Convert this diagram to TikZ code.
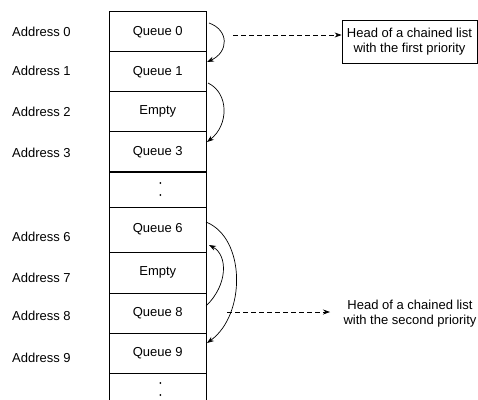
\documentclass[tikz,border=0pt]{standalone}
\usepackage{fontspec}
\setmainfont{Liberation Sans}
\usetikzlibrary{arrows.meta}
\begin{document}
\begin{tikzpicture}[x=1pt,y=-1pt,
  cell/.style={draw,line width=0.8pt,minimum width=97pt,inner sep=0pt,font=\fontsize{13}{15}\selectfont},
  addr/.style={anchor=west,inner sep=0pt,font=\fontsize{13}{15}\selectfont},
  link/.style={line width=0.7pt,-{Stealth[length=7pt,width=5pt]}},
  dlink/.style={line width=0.7pt,dash pattern=on 5pt off 3pt,-{Stealth[length=7pt,width=5pt]}},
  note/.style={align=center,inner sep=0pt,font=\fontsize{13}{15}\selectfont}]
\useasboundingbox (0,0) rectangle (478,399);
% column cells
\node[cell,minimum height=40pt] (c0) at (157.8,31.8) {Queue 0};
\node[cell,minimum height=40pt] (c1) at (157.8,71.8) {Queue 1};
\node[cell,minimum height=40pt] (c2) at (157.8,111.8) {Empty};
\node[cell,minimum height=40pt] (c3) at (157.8,151.8) {Queue 3};
\node[cell,minimum height=35pt] (cd1) at (157.8,189.5) {};
\node[cell,minimum height=45pt] (c6) at (157.8,229.5) {Queue 6};
\node[cell,minimum height=41pt] (c7) at (157.8,272.5) {Empty};
\node[cell,minimum height=40pt] (c8) at (157.8,313) {Queue 8};
\node[cell,minimum height=40pt] (c9) at (157.8,353) {Queue 9};
\node[cell,minimum height=40pt] (cd2) at (157.8,393) {};
% dots
\fill (cd1.center) ++(2.5,-6.5) circle (1pt) ++(0,12) circle (1pt);
\fill (cd2.center) ++(2.5,-10) circle (1pt) ++(0,12) circle (1pt);
% addresses
\node[addr] (a0) at (12,32) {Address 0};
\node[addr] (a1) at (12,71) {Address 1};
\node[addr] (a2) at (12,112) {Address 2};
\node[addr] (a3) at (12,153) {Address 3};
\node[addr] (a6) at (12,237) {Address 6};
\node[addr] (a7) at (12,278) {Address 7};
\node[addr] (a8) at (12,316) {Address 8};
\node[addr] (a9) at (12,358) {Address 9};
% notes
\node[draw,line width=0.8pt,align=center,inner sep=0pt,minimum width=135pt,minimum height=43pt,font=\fontsize{13}{15}\selectfont] (h1) at (409.5,41.5) {Head of a chained list\\with the first priority};
\node[note] (h2) at (410,314) {Head of a chained list\\with the second priority};
% chain arrows
\coordinate (s0) at (209,23);
\coordinate (e0) at (207,62);
\draw[link] (s0) .. controls (229,30) and (229,52) .. (e0);
\coordinate (s1) at (208,83);
\coordinate (e1) at (207,142);
\draw[link] (s1) .. controls (229,93) and (229,125) .. (e1);
\coordinate (s6) at (206,222);
\coordinate (e6) at (207,343);
\draw[link] (s6) .. controls (246,238) and (246,315) .. (e6);
\coordinate (s8) at (206,306);
\coordinate (e8) at (209,245);
\draw[link] (s8) .. controls (228,285) and (228,255) .. (e8);
% dashed pointers
\coordinate (d1) at (233,35);
\draw[dlink] (d1) -- (h1.west |- d1);
\coordinate (d2) at (227,312);
\coordinate (d2e) at (330,312);
\draw[dlink] (d2) -- (d2e);
\end{tikzpicture}
\end{document}
